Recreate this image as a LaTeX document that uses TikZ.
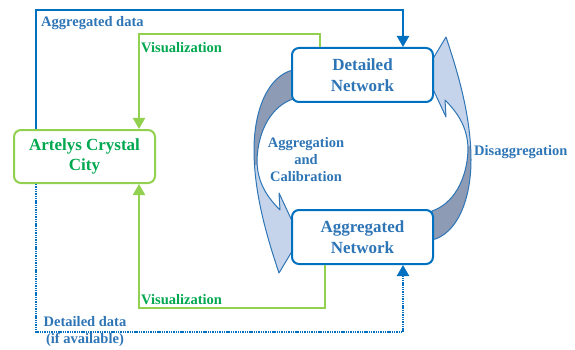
\documentclass[tikz,border=0pt]{standalone}
\usepackage{fontspec}
\setmainfont{Liberation Serif}
\usetikzlibrary{arrows.meta,calc}
\definecolor{lblue}{RGB}{0,112,192}
\definecolor{tblue}{RGB}{46,117,182}
\definecolor{lgreen}{RGB}{146,208,80}
\definecolor{tgreen}{RGB}{0,168,80}
\definecolor{adark}{RGB}{141,155,181}
\definecolor{alight}{RGB}{197,212,234}
\def\crvpath{(-69.5,-85) .. controls (-94.5,-79) and (-108.5,-45) .. (-108.5,-5) .. controls (-108.5,40) and (-94.5,85) .. (-83.5,118) -- (-62.5,83) -- (-83.5,38) -- (-82.5,55) .. controls (-97.5,40) and (-105.5,25) .. (-105.5,5) .. controls (-104.5,-25) and (-90.5,-49) .. (-69.5,-56) -- cycle}
\tikzset{
 box/.style={draw, line width=2pt, rounded corners=7pt, fill=white, minimum width=141pt, minimum height=54pt, align=center, font=\bfseries\fontsize{17}{20.5}\selectfont, inner sep=0pt},
 bbox/.style={box, draw=lblue, text=tblue},
 gbox/.style={box, draw=lgreen, text=tgreen},
 lbl/.style={font=\bfseries\fontsize{14.5}{17}\selectfont, inner sep=0pt, text=tblue, align=center},
 glbl/.style={lbl, text=tgreen},
 bline/.style={draw=lblue, line width=2pt},
 gline/.style={draw=lgreen, line width=2pt},
 btip/.style={-{Triangle[length=11pt,width=12pt]}},
 crvout/.style={draw=tblue, line width=1pt, line join=round},
}
\begin{document}
\begin{tikzpicture}[x=1pt,y=-1pt]
\fill[white] (0,0) rectangle (575,350);
\useasboundingbox (0,0) rectangle (575,350);

% curved block arrows
\foreach \ang in {0,180}{
\begin{scope}[shift={(362.5,155)}, rotate=\ang]
 \begin{scope}\clip (-130,-100) rectangle (-40,10); \fill[adark] \crvpath; \end{scope}
 \begin{scope}\clip (-130,10) rectangle (-40,130); \fill[alight] \crvpath; \end{scope}
 \draw[crvout] \crvpath;
\end{scope}
}

% boxes
\node[gbox, minimum height=53pt] (art) at (84.5,156.5) {Artelys Crystal\\City};
\node[bbox] (det) at (362.5,75) {Detailed\\Network};
\node[bbox] (agg) at (362.5,237) {Aggregated\\Network};

% connectors
\coordinate (c1) at (36,10); \coordinate (c2) at (403,10);
\draw[bline, btip] (art.north -| c1) -- (c1) -- (c2) -- (c2 |- det.north);
\coordinate (g1) at (320,34); \coordinate (g2) at (139,34);
\draw[gline, btip] (det.north -| g1) -- (g1) -- (g2) -- (g2 |- art.north);
\coordinate (g3) at (325,308); \coordinate (g4) at (139,308);
\draw[gline, btip] (agg.south -| g3) -- (g3) -- (g4) -- (g4 |- art.south);
\coordinate (d1) at (36,332); \coordinate (d2) at (403,332);
\draw[bline, line width=2pt, dash pattern=on 1.4pt off 0.9pt, btip] (art.south -| d1) -- (d1) -- (d2) -- (d2 |- agg.south);

% labels
\node[lbl, anchor=west] (l1) at (41,23) {Aggregated data};
\node[glbl, anchor=west] (l2) at (141,48) {Visualization};
\node[glbl, anchor=west] (l3) at (141,300) {Visualization};
\node[lbl] (l4) at (85,331.5) {Detailed data\\(if available)};
\node[lbl] (l5) at (306,160) {Aggregation\\and\\Calibration};
\node[lbl, anchor=west] (l6) at (474,152) {Disaggregation};
\end{tikzpicture}
\end{document}
